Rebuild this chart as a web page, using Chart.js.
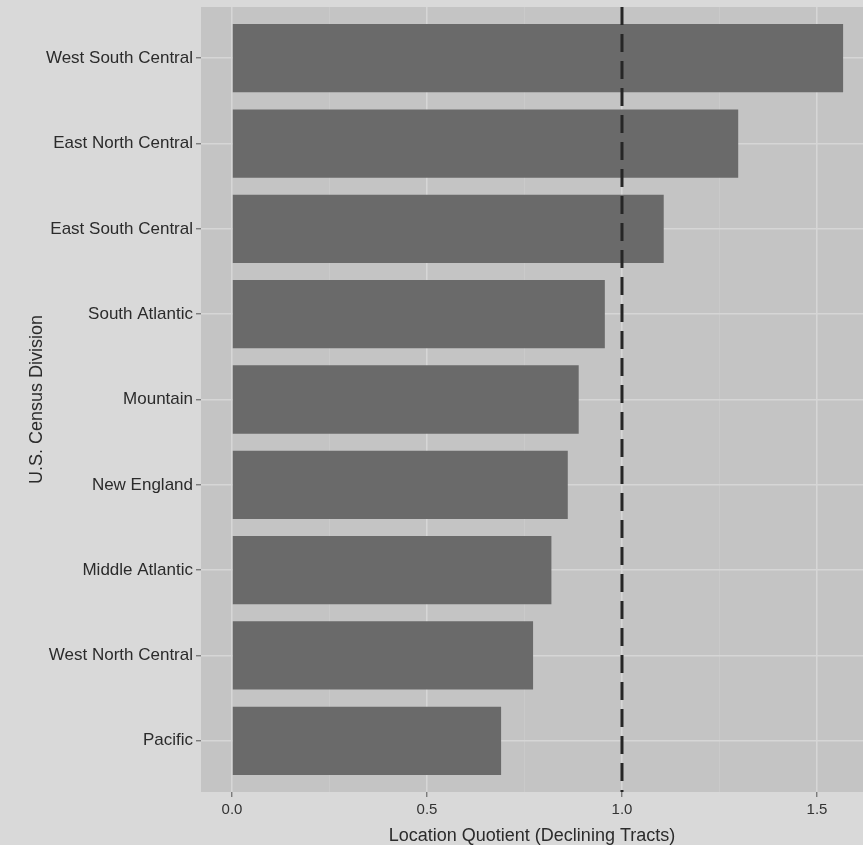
<!DOCTYPE html>
<html>
<head>
<meta charset="utf-8">
<title>Location Quotient by U.S. Census Division</title>
<script src="https://cdn.jsdelivr.net/npm/chart.js@4"></script>
<style>
  html, body { margin: 0; padding: 0; background: #d9d9d9; }
  #wrap { width: 863px; height: 845px; }
</style>
</head>
<body>
<div id="wrap"><canvas id="chart" width="863" height="845"></canvas></div>
<script>
// Census divisions, top to bottom
const divisions = [
  'West South Central',
  'East North Central',
  'East South Central',
  'South Atlantic',
  'Mountain',
  'New England',
  'Middle Atlantic',
  'West North Central',
  'Pacific'
];

// Location quotient of declining tracts per division
const locationQuotient = [1.567, 1.298, 1.107, 0.956, 0.889, 0.861, 0.819, 0.772, 0.690];

// Reference value marked with the dashed line
const referenceValue = 1.0;

// Axis breaks on the value axis
const majorBreaks = [0, 0.5, 1.0, 1.5];
const minorBreaks = [0.25, 0.75, 1.25];

const FONT = "'Liberation Sans', Arial, Helvetica, sans-serif";
const TEXT = '#2b2b2b';

// Fill page and panel backgrounds before the scales paint their grids
const panelBackground = {
  id: 'panelBackground',
  beforeDraw(chart) {
    const { ctx, chartArea: a } = chart;
    ctx.save();
    ctx.fillStyle = '#d9d9d9';
    ctx.fillRect(0, 0, chart.width, chart.height);
    ctx.fillStyle = '#c4c4c4';
    ctx.fillRect(a.left, a.top, a.right - a.left, a.bottom - a.top);
    ctx.restore();
  }
};

const isMajor = v => majorBreaks.some(b => Math.abs(b - v) < 1e-9);

// Discrete axis spans 0.6 of a band beyond the first and last division
const yMin = -0.6;
const yMax = divisions.length - 1 + 0.6;

new Chart(document.getElementById('chart'), {
  type: 'bar',
  data: {
    datasets: [
      {
        type: 'line',
        data: [{ x: referenceValue, y: yMin }, { x: referenceValue, y: yMax }],
        borderColor: '#262626',
        borderWidth: 3,
        borderDash: [18, 9],
        pointRadius: 0,
        fill: false,
        order: 0
      },
      {
        type: 'bar',
        data: locationQuotient.map((v, i) => ({ x: v, y: i })),
        backgroundColor: '#6a6a6a',
        borderWidth: 0,
        categoryPercentage: 1,
        barPercentage: 0.8,
        order: 1
      }
    ]
  },
  options: {
    indexAxis: 'y',
    responsive: false,
    animation: false,
    devicePixelRatio: 1,
    layout: { padding: { top: 7, right: 0, bottom: 0, left: 0 } },
    plugins: {
      legend: { display: false },
      tooltip: { enabled: false }
    },
    scales: {
      x: {
        type: 'linear',
        position: 'bottom',
        min: -0.0795,
        max: 1.618,
        offset: false,
        afterBuildTicks: s => {
          s.ticks = majorBreaks.concat(minorBreaks).sort((a, b) => a - b).map(v => ({ value: v }));
        },
        afterFit: s => { s.height = 53; s.paddingLeft = 0; s.paddingRight = 0; },
        border: { display: false },
        grid: {
          offset: false,
          color: c => isMajor(c.tick.value) ? '#d6d6d6' : '#cbcbcb',
          lineWidth: c => isMajor(c.tick.value) ? 1.6 : 0.9,
          drawTicks: true,
          tickLength: 5,
          tickColor: c => isMajor(c.tick.value) ? '#555555' : 'rgba(0,0,0,0)',
          tickWidth: 1
        },
        ticks: {
          autoSkip: false,
          maxRotation: 0,
          padding: 4,
          color: '#333333',
          font: { family: FONT, size: 15 },
          callback: v => isMajor(v) ? v.toFixed(1) : ''
        },
        title: {
          display: true,
          text: 'Location Quotient (Declining Tracts)',
          color: TEXT,
          font: { family: FONT, size: 18, lineHeight: 1 },
          padding: { top: 0, bottom: 0 }
        }
      },
      y: {
        type: 'linear',
        position: 'left',
        reverse: true,
        min: yMin,
        max: yMax,
        offset: false,
        afterBuildTicks: s => {
          s.ticks = divisions.map((_, i) => ({ value: i }));
        },
        afterFit: s => { s.width = 201; s.paddingTop = 0; s.paddingBottom = 0; },
        border: { display: false },
        grid: {
          offset: false,
          color: '#d6d6d6',
          lineWidth: 1.6,
          drawTicks: true,
          tickLength: 5,
          tickColor: '#555555',
          tickWidth: 1
        },
        ticks: {
          autoSkip: false,
          padding: 3,
          color: TEXT,
          font: { family: FONT, size: 17 },
          callback: v => divisions[v] !== undefined ? divisions[v] : ''
        },
        title: {
          display: true,
          text: 'U.S. Census Division',
          color: TEXT,
          font: { family: FONT, size: 18, lineHeight: 1.2 },
          padding: { top: 26, bottom: 0 }
        }
      }
    }
  },
  plugins: [panelBackground]
});
</script>
</body>
</html>
